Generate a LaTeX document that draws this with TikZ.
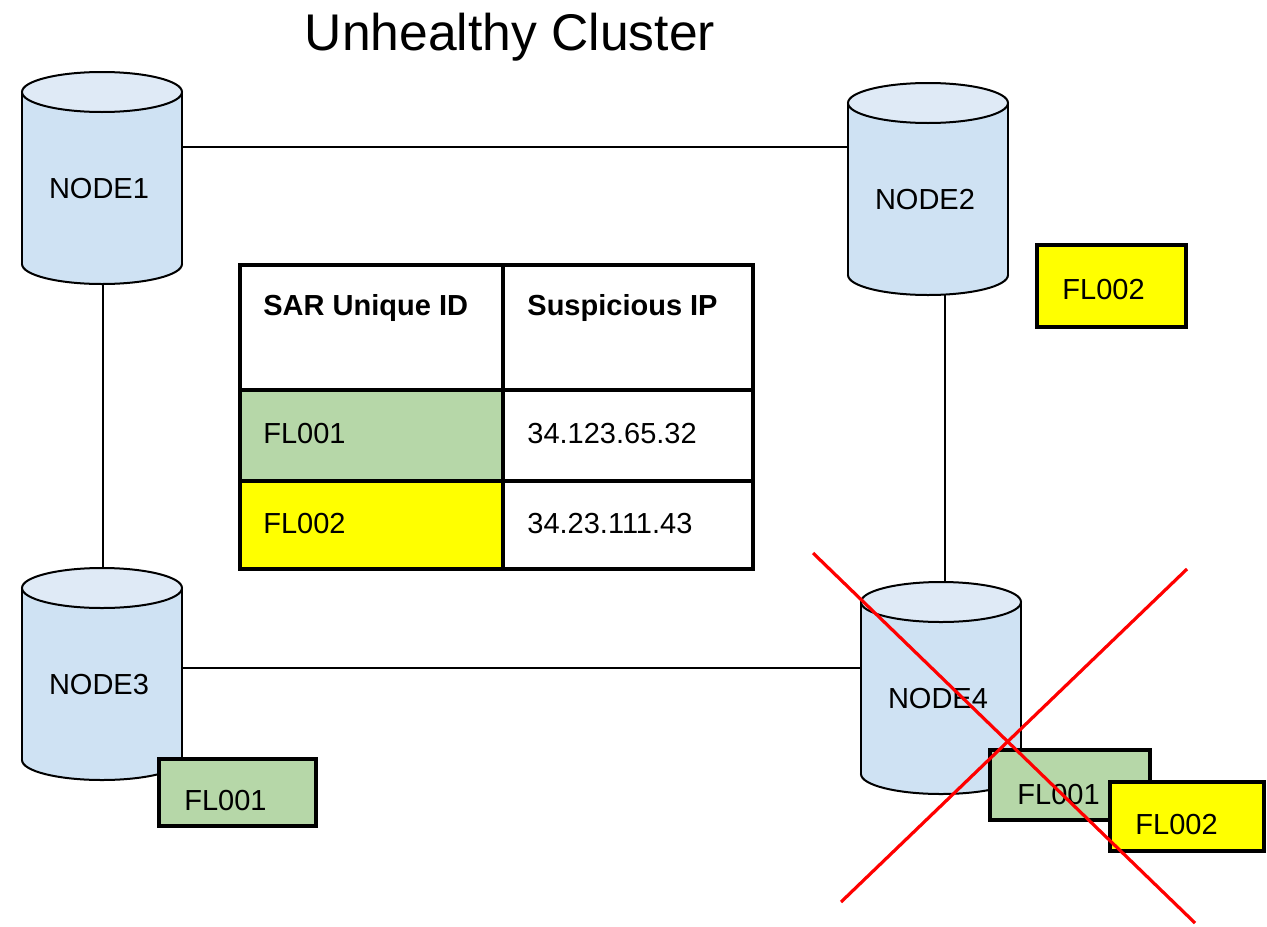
\documentclass[tikz,border=0pt]{standalone}
\usepackage{fontspec}
\setmainfont{Liberation Sans}
\usepackage{tikz}
\definecolor{dbblue}{HTML}{CFE2F3}
\definecolor{dbtop}{HTML}{DFEAF6}
\definecolor{flgreen}{HTML}{B6D7A8}
\definecolor{flyellow}{HTML}{FFFF00}
\def\dbcyl(#1)(#2,#3)#4 %Syntax: (name)(left,top){label}, size 160x212
{ \fill[dbblue,draw=black,line width=1pt] (#2+80,#3+192) ellipse (80 and 20);
  \fill[dbblue] (#2,#3+20) rectangle (#2+160,#3+192);
  \draw[line width=1pt] (#2,#3+20)--(#2,#3+192) (#2+160,#3+20)--(#2+160,#3+192);
  \filldraw[fill=dbtop,line width=1pt] (#2+80,#3+20) ellipse (80 and 20);
  \node[dbbox] (#1) at (#2+80,#3+106) {};
  \node[lbl,anchor=base] (#1-t) at (#2+77,#3+126) {#4}; }

\begin{document}
\begin{tikzpicture}[x=0.5pt,y=-0.5pt,
	lbl/.style={inner sep=0pt,font=\fontsize{14.5}{17}\selectfont},
	dbbox/.style={inner sep=0pt,minimum width=80pt,minimum height=106pt},
	link/.style={line width=1pt},
	cell/.style={draw,line width=2pt,inner sep=0pt,anchor=north west},
	tag/.style={draw,line width=2pt,inner sep=0pt},
	cross/.style={red,line width=1.6pt}]
	\useasboundingbox (0,0) rectangle (1267,926);

	%title
	\node[anchor=base,inner sep=0pt,font=\fontsize{25.8}{30}\selectfont] (title) at (510,50) {Unhealthy Cluster};

	%cylinders
	\dbcyl(n1)(22,72){NODE1}
	\dbcyl(n2)(848,83){NODE2}
	\dbcyl(n3)(22,568){NODE3}
	\dbcyl(n4)(861,582){NODE4}

	%links
	\draw[link] (n1.east |- 0,147)--(n2.west |- 0,147);
	\draw[link] (n1.south -| 103,0)--(n3.north -| 103,0);
	\draw[link] (n2.south -| 945,0)--(n4.north -| 945,0);
	\draw[link] (n3.east |- 0,668)--(n4.west |- 0,668);

	%table
	\node[cell,fill=white,minimum width=131.5pt,minimum height=62.5pt] (hid) at (238,263) {};
	\node[cell,fill=white,minimum width=125pt,minimum height=62.5pt] (hip) at (501,263) {};
	\node[cell,fill=flgreen,minimum width=131.5pt,minimum height=45.5pt] (id1) at (238,388) {};
	\node[cell,fill=white,minimum width=125pt,minimum height=45.5pt] (ip1) at (501,388) {};
	\node[cell,fill=flyellow,minimum width=131.5pt,minimum height=44pt] (id2) at (238,479) {};
	\node[cell,fill=white,minimum width=125pt,minimum height=44pt] (ip2) at (501,479) {};
	\node[lbl,anchor=base west] (hid-t) at (263,315) {\bfseries SAR Unique ID};
	\node[lbl,anchor=base west] (hip-t) at (527,315) {\bfseries Suspicious IP};
	\node[lbl,anchor=base west] (id1-t) at (263,443) {FL001};
	\node[lbl,anchor=base west] (ip1-t) at (527,443) {34.123.65.32};
	\node[lbl,anchor=base west] (id2-t) at (263,533) {FL002};
	\node[lbl,anchor=base west] (ip2-t) at (527,533) {34.23.111.43};

	%tags
	\node[tag,fill=flyellow,minimum width=74.5pt,minimum height=41pt] (t2) at (1111.5,286) {};
	\node[lbl,anchor=base west] (t2-t) at (1062,299) {FL002};
	\node[tag,fill=flgreen,minimum width=78.5pt,minimum height=33.5pt] (t3) at (237.5,792.5) {};
	\node[lbl,anchor=base west] (t3-t) at (184,810) {FL001};
	\node[tag,fill=flgreen,minimum width=80pt,minimum height=35pt] (t4a) at (1070,785) {};
	\node[lbl,anchor=base west] (t4a-t) at (1017,804) {FL001};
	\node[tag,fill=flyellow,minimum width=77pt,minimum height=34.5pt] (t4b) at (1187,816.5) {};
	\node[lbl,anchor=base west] (t4b-t) at (1135,834) {FL002};

	%red cross over NODE4
	\coordinate (xa) at (813,553);
	\coordinate (xb) at (1195,923);
	\coordinate (xc) at (841,902);
	\coordinate (xd) at (1187,569);
	\draw[cross] (xa)--(xb);
	\draw[cross] (xc)--(xd);
\end{tikzpicture}
\end{document}
